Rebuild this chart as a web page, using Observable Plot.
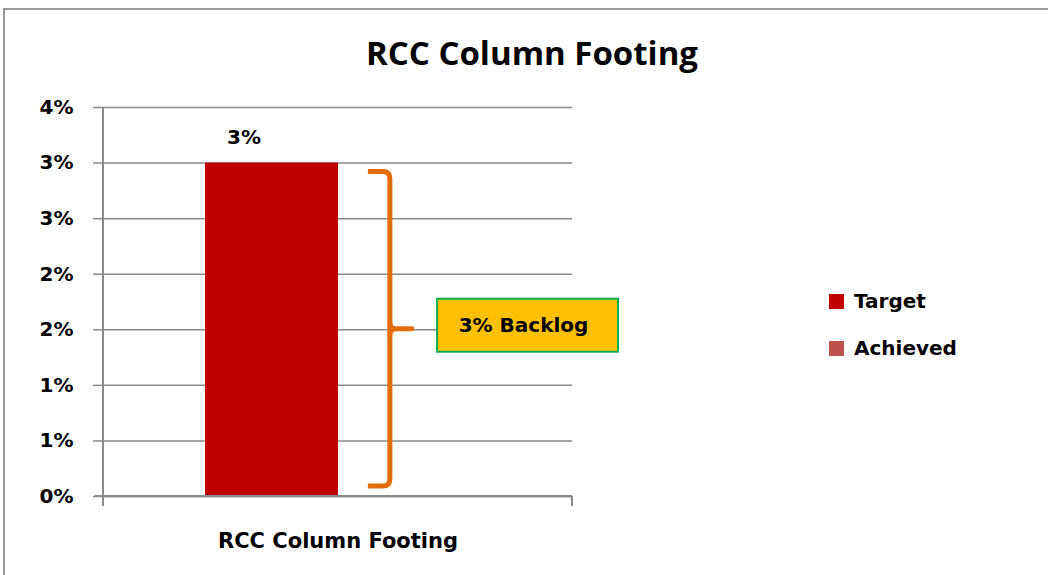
<!DOCTYPE html>
<html>
<head>
<meta charset="utf-8">
<script src="https://cdn.jsdelivr.net/npm/d3@7"></script>
<script src="https://cdn.jsdelivr.net/npm/@observablehq/plot@0.6"></script>
<style>
  html, body { margin: 0; padding: 0; background: #fff; }
  #wrap { position: relative; width: 1048px; height: 575px; overflow: hidden; background: #fff; }
  #border { position: absolute; left: 3px; top: 8px; width: 1200px; height: 700px;
            border-top: 2px solid #9a9a9a; border-left: 2px solid #9a9a9a; }
  #title { position: absolute; left: 0; width: 1064px; top: 36px; text-align: center;
           font-family: "Open Sans", sans-serif; font-weight: bold; font-size: 33px; line-height: 1; color: #000; }
  #chart { position: absolute; left: 0; top: 90px; }
  .legend { position: absolute; left: 829px; font-family: "DejaVu Sans", sans-serif; font-weight: bold;
            font-size: 20px; color: #000; display: flex; align-items: center; line-height: 1; }
  .legend span.sw { display: inline-block; width: 15px; height: 15px; margin-right: 10px; }
</style>
</head>
<body>
<div id="wrap">
  <div id="border"></div>
  <div id="title"></div>
  <div id="chart"></div>
  <div id="legend"></div>
</div>
<script>
const titleText = "RCC Column Footing";
const category = "RCC Column Footing";
const series = ["Target", "Achieved"];
const values = [0.03, 0];
const valueLabels = ["3%", ""];
const seriesColors = ["#C00000", "#C0504D"];
const yTicks = [0, 0.005, 0.01, 0.015, 0.02, 0.025, 0.03, 0.035];
const yTickLabels = ["0%", "1%", "1%", "2%", "2%", "3%", "3%", "4%"];
const backlogLabel = "3% Backlog";
const braceRange = [0.0009, 0.0292];

const data = series.map((s, i) => ({ series: s, value: values[i], label: valueLabels[i], category }));

document.getElementById("title").textContent = titleText;

const grid = "#8a8a8a";
const plot = Plot.plot({
  width: 1048,
  height: 485,
  marginTop: 17,
  marginBottom: 79,
  marginLeft: 103,
  marginRight: 476,
  style: { fontFamily: "DejaVu Sans, sans-serif", fontWeight: "bold", fontSize: "20px", color: "#000", background: "transparent" },
  x: { domain: series, paddingInner: 0, paddingOuter: 0.76, axis: null },
  y: { domain: [0, 0.035] },
  color: { domain: series, range: seriesColors },
  marks: [
    Plot.gridY(yTicks, { stroke: grid, strokeOpacity: 1, strokeWidth: 1.5 }),
    Plot.axisY(yTicks, {
      tickSize: 10, tickPadding: 20, stroke: grid, strokeWidth: 1.5, strokeOpacity: 1,
      tickFormat: d => yTickLabels[yTicks.findIndex(t => Math.abs(t - d) < 1e-9)],
      label: null, fontSize: 20, fontWeight: "bold"
    }),
    Plot.barY(data, { x: "series", y: "value", fill: "series" }),
    Plot.ruleY([0], { stroke: grid, strokeWidth: 1.5 }),
    Plot.text(data.filter(d => d.label), { x: "series", y: "value", text: "label", dy: -25, dx: -28, fontSize: 20, fontWeight: "bold" }),
    Plot.text([category], { frameAnchor: "bottom", lineAnchor: "middle", dy: 45, text: d => d, fontSize: 21, fontWeight: "bold" })
  ]
});
document.getElementById("chart").appendChild(plot);

// axis lines, brace and backlog callout positioned from Plot's own scales
const xs = plot.scale("x"), ys = plot.scale("y");
const [xl, xr] = xs.range;
const y0 = ys.apply(0), yTop = ys.apply(0.035);
const svg = d3.select(plot);
const g = svg.append("g");
g.append("line").attr("x1", xl).attr("x2", xl).attr("y1", yTop).attr("y2", y0 + 10).attr("stroke", grid).attr("stroke-width", 2);
g.append("line").attr("x1", xr).attr("x2", xr).attr("y1", y0).attr("y2", y0 + 10).attr("stroke", grid).attr("stroke-width", 2);
g.append("line").attr("x1", xl - 8).attr("x2", xr).attr("y1", y0).attr("y2", y0).attr("stroke", grid).attr("stroke-width", 2);

const bw = xs.bandwidth;
const bx = xs.apply("Achieved") + bw * 0.39;
const yt = ys.apply(braceRange[1]), yb = ys.apply(braceRange[0]), ym = (yt + yb) / 2;
const orange = "#E46C0A";
g.append("path")
  .attr("d", `M${bx - 22},${yt} L${bx - 7},${yt} Q${bx},${yt} ${bx},${yt + 7} L${bx},${yb - 7} Q${bx},${yb} ${bx - 7},${yb} L${bx - 22},${yb}`)
  .attr("fill", "none").attr("stroke", orange).attr("stroke-width", 5);
g.append("path")
  .attr("d", `M${bx},${ym - 6} Q${bx},${ym} ${bx + 6},${ym} L${bx + 22},${ym} M${bx},${ym + 6} Q${bx},${ym} ${bx + 6},${ym}`)
  .attr("fill", "none").attr("stroke", orange).attr("stroke-width", 5).attr("stroke-linecap", "round");

const boxX = xs.apply("Achieved") + bw * 0.745;
const boxW = 181, boxH = 53;
g.append("rect").attr("x", boxX).attr("y", ym - 30).attr("width", boxW).attr("height", boxH)
  .attr("fill", "#FFC000").attr("stroke", "#00B050").attr("stroke-width", 2);
g.append("text").attr("x", boxX + boxW / 2 - 4).attr("y", ym - 30 + boxH / 2).attr("dy", "0.35em")
  .attr("text-anchor", "middle").attr("font-size", 20).attr("font-weight", "bold").attr("fill", "#000")
  .text(backlogLabel);

// legend
const legend = document.getElementById("legend");
const legendTops = [291, 338];
series.forEach((s, i) => {
  const row = document.createElement("div");
  row.className = "legend";
  row.style.top = legendTops[i] + "px";
  row.innerHTML = `<span class="sw" style="background:${seriesColors[i]}"></span><span>${s}</span>`;
  legend.appendChild(row);
});
</script>
</body>
</html>
